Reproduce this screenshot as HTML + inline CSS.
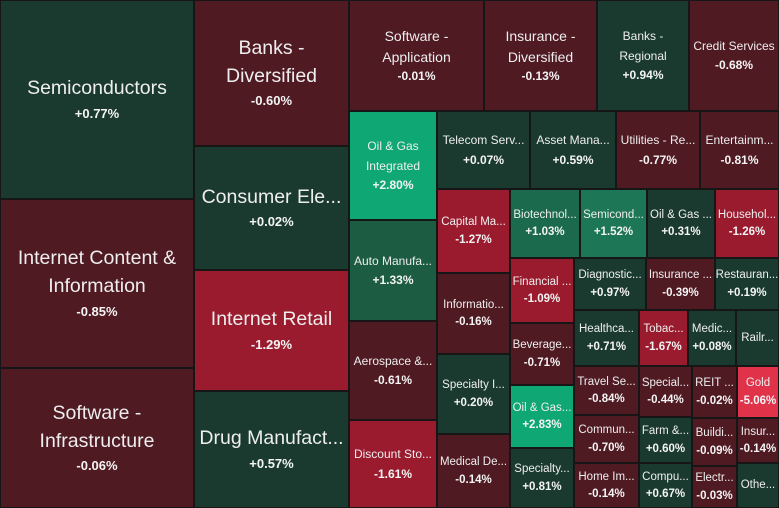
<!DOCTYPE html>
<html><head><meta charset="utf-8"><style>
html,body{margin:0;padding:0;width:779px;height:508px;overflow:hidden;background:#161616;font-family:"Liberation Sans",Arial,sans-serif}
.t{position:absolute;box-sizing:border-box;display:flex;flex-direction:column;align-items:center;justify-content:center;text-align:center;color:#eee;overflow:hidden;white-space:nowrap}
.t b{font-weight:bold;color:#f4f4f4}
</style></head><body>
<script>
const C={dr:"#4f1a22",dg:"#1b3a2f",r:"#9a1b2e",mg:"#1b6a4d",mg2:"#1d7655",bg:"#0fa875",gd:"#e0334a",ag:"#1c5c43"};
const T=[
[0,0,194,199,"Semiconductors","+0.77%","dg",19.5,13],
[0,199,194,169,"Internet Content &amp;<br>Information","-0.85%","dr",19.5,13],
[0,368,194,140,"Software -<br>Infrastructure","-0.06%","dr",19.5,13],
[194,0,155,146,"Banks -<br>Diversified","-0.60%","dr",19.5,13],
[194,146,155,124,"Consumer Ele...","+0.02%","dg",19.5,13],
[194,270,155,121,"Internet Retail","-1.29%","r",19.5,13],
[194,391,155,117,"Drug Manufact...","+0.57%","dg",19.5,13],
[349,0,135,111,"Software -<br>Application","-0.01%","dr",14,12],
[484,0,113,111,"Insurance -<br>Diversified","-0.13%","dr",14,12],
[597,0,92,111,"Banks -<br>Regional","+0.94%","dg",12,12],
[689,0,90,111,"Credit Services","-0.68%","dr",12,12],
[349,111,88,109,"Oil &amp; Gas<br>Integrated","+2.80%","bg",12,12],
[437,111,93,78,"Telecom Serv...","+0.07%","dg",12,12],
[530,111,86,78,"Asset Mana...","+0.59%","dg",12,12],
[616,111,84,78,"Utilities - Re...","-0.77%","dr",12,12],
[700,111,79,78,"Entertainm...","-0.81%","dr",12,12],
[349,220,88,101,"Auto Manufa...","+1.33%","ag",12,12],
[349,321,88,99,"Aerospace &amp;...","-0.61%","dr",12,12],
[349,420,88,88,"Discount Sto...","-1.61%","r",12,12],
[437,189,73,84,"Capital Ma...","-1.27%","r",11.5,11.5],
[437,273,73,81,"Informatio...","-0.16%","dr",11.5,11.5],
[437,354,73,80,"Specialty I...","+0.20%","dg",11.5,11.5],
[437,434,73,74,"Medical De...","-0.14%","dr",11.5,11.5],
[510,189,70,69,"Biotechnol...","+1.03%","mg",11.5,11.5],
[580,189,67,69,"Semicond...","+1.52%","mg2",11.5,11.5],
[647,189,68,69,"Oil &amp; Gas ...","+0.31%","dg",11.5,11.5],
[715,189,64,69,"Househol...","-1.26%","r",11.5,11.5],
[510,258,64,65,"Financial ...","-1.09%","r",11.5,11.5],
[510,323,64,62,"Beverage...","-0.71%","dr",11.5,11.5],
[510,385,64,63,"Oil &amp; Gas...","+2.83%","bg",11.5,11.5],
[510,448,64,60,"Specialty...","+0.81%","dg",11.5,11.5],
[574,258,72,52,"Diagnostic...","+0.97%","dg",11.5,11.5],
[646,258,69,52,"Insurance ...","-0.39%","dr",11.5,11.5],
[715,258,64,52,"Restauran...","+0.19%","dg",11.5,11.5],
[574,310,65,56,"Healthca...","+0.71%","dg",11.5,11.5],
[639,310,49,56,"Tobac...","-1.67%","r",11.5,11.5],
[688,310,48,56,"Medic...","+0.08%","dg",11.5,11.5],
[736,310,43,56,"Railr...","","dg",11.5,11.5],
[574,366,65,49,"Travel Se...","-0.84%","dr",11.5,11.5],
[574,415,65,48,"Commun...","-0.70%","dr",11.5,11.5],
[574,463,65,45,"Home Im...","-0.14%","dr",11.5,11.5],
[639,366,53,51,"Special...","-0.44%","dr",11.5,11.5],
[639,417,53,46,"Farm &amp;...","+0.60%","dg",11.5,11.5],
[639,463,53,45,"Compu...","+0.67%","dg",11.5,11.5],
[692,366,45,52,"REIT ...","-0.02%","dr",11.5,11.5],
[692,418,45,48,"Buildi...","-0.09%","dr",11.5,11.5],
[692,466,45,42,"Electr...","-0.03%","dr",11.5,11.5],
[737,366,42,52,"Gold","-5.06%","gd",11.5,11.5],
[737,418,42,45,"Insur...","-0.14%","dr",11.5,11.5],
[737,463,42,45,"Othe...","","dg",11.5,11.5]];
let h="";
for(const [x,y,w,hh,n,p,c,fs,ps] of T){
 const lh=fs>=19?1.45:(fs>=14?1.45:1.6);
 h+=`<div class="t" style="left:${x+1}px;top:${y+1}px;width:${w-2}px;height:${hh-2}px;background:${C[c]}"><div style="font-size:${fs}px;line-height:${lh}">${n}</div>${p?`<b style="font-size:${ps}px;line-height:${fs>=19?1.7:1.5}">${p}</b>`:""}</div>`;
}
document.body.innerHTML=h;
</script>
</body></html>
